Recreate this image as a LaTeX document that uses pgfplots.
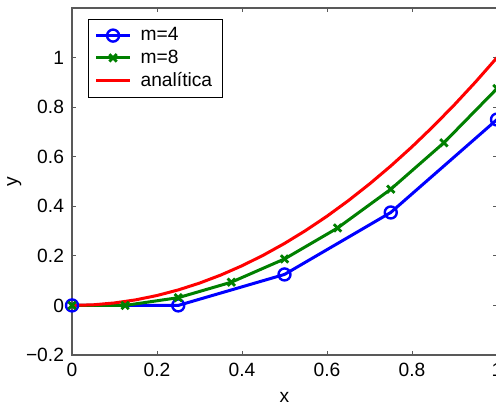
\documentclass[border=0pt]{standalone}
\usepackage{fontspec}
\setmainfont{Liberation Sans}
\usepackage{pgfplots}
\pgfplotsset{compat=1.18}

\definecolor{mblue}{rgb}{0,0,1}
\definecolor{mgreen}{rgb}{0,0.5,0}
\definecolor{mred}{rgb}{1,0,0}

\begin{document}
\begin{tikzpicture}
\begin{axis}[
    name=ax,
    scale only axis,
    width=212.5pt, height=173.5pt,
    xmin=0, xmax=1, ymin=-0.2, ymax=1.2,
    xtick={0,0.2,0.4,0.6,0.8,1},
    xticklabels={0,0.2,0.4,0.6,0.8,1},
    ytick={-0.2,0,0.2,0.4,0.6,0.8,1},
    yticklabels={−0.2,0,0.2,0.4,0.6,0.8,1},
    tick align=inside,
    major tick length=2pt,
    axis line style={black!65, line width=0.6pt},
    every tick/.style={black!65, line width=0.5pt},
    font=\fontsize{9.6}{11}\selectfont,
    xticklabel style={yshift=-0.5pt},
    yticklabel style={xshift=-0.5pt},
    xlabel={x}, ylabel={y},
    xlabel style={yshift=-1pt},
    ylabel style={yshift=-4.5pt},
    legend style={at={(rel axis cs:0,1)}, anchor=north west,
        xshift=8pt, yshift=-5.5pt, draw=black, line width=0.5pt,
        font=\fontsize{9.6}{11}\selectfont,
        row sep=-1pt, column sep=2.5pt, inner xsep=3pt, inner ysep=2pt},
    legend cell align=left,
    legend image code/.code={
        \draw[#1, line width=1.5pt] (0cm,0cm) -- (0.6cm,0cm);
        \draw[#1, line width=1.5pt, only marks] plot coordinates {(0.3cm,0cm)};
    },
]
\addplot[mblue, line width=1.5pt, mark=o, mark size=3pt, mark options={line width=1.2pt}]
coordinates {(0,0) (0.25,0) (0.5,0.125) (0.75,0.375) (1,0.75)};
\addlegendentry{m=4}
\addplot[mgreen, line width=1.5pt, mark=x, mark size=2.6pt, mark options={line width=1.4pt}]
coordinates {(0,0) (0.125,0) (0.25,0.03125) (0.375,0.09375) (0.5,0.1875)
    (0.625,0.3125) (0.75,0.46875) (0.875,0.65625) (1,0.875)};
\addlegendentry{m=8}
\addplot[mred, line width=1.5pt]
coordinates {(0,0) (0.05,0.0025) (0.1,0.01) (0.15,0.0225) (0.2,0.04) (0.25,0.0625)
    (0.3,0.09) (0.35,0.1225) (0.4,0.16) (0.45,0.2025) (0.5,0.25) (0.55,0.3025)
    (0.6,0.36) (0.65,0.4225) (0.7,0.49) (0.75,0.5625) (0.8,0.64) (0.85,0.7225)
    (0.9,0.81) (0.95,0.9025) (1,1)};
\addlegendentry{analítica}
\end{axis}
\pgfresetboundingbox
\path[use as bounding box] ([xshift=-36pt,yshift=-24.5pt]ax.south west)
    rectangle ([xshift=-0.5pt,yshift=4pt]ax.north east);
\end{tikzpicture}
\end{document}
